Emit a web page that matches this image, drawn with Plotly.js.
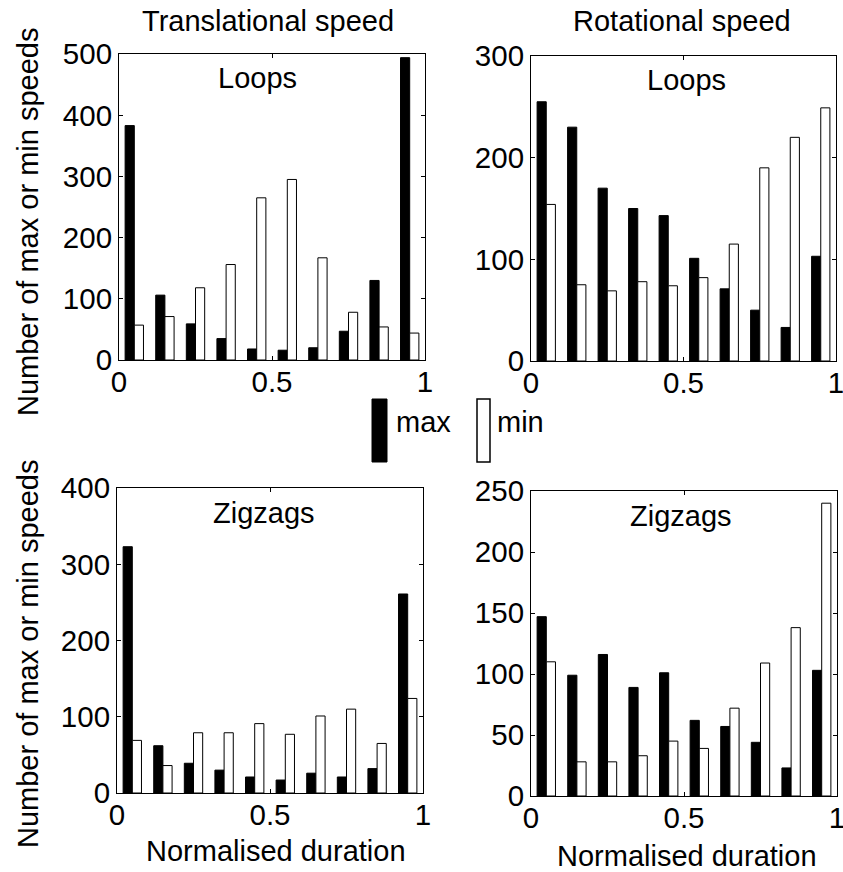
<!DOCTYPE html>
<html>
<head>
<meta charset="utf-8">
<script src="https://cdn.plot.ly/plotly-3.0.1.min.js"></script>
<style>html,body{margin:0;padding:0;background:#fff;}#chart{width:843px;height:872px;}</style>
</head>
<body>
<div id="chart"></div>
<script>
// Bin centres of the normalised duration (10 bins)
var binCenters = [0.05, 0.15, 0.25, 0.35, 0.45, 0.55, 0.65, 0.75, 0.85, 0.95];

// Translational speed, Loops
var transLoopsMax = [383, 106, 59, 35, 18, 16, 20, 47, 130, 494];
var transLoopsMin = [57, 71, 118, 156, 265, 295, 167, 78, 54, 44];
// Rotational speed, Loops
var rotLoopsMax = [255, 230, 170, 150, 143, 101, 71, 50, 33, 103];
var rotLoopsMin = [154, 75, 69, 78, 74, 82, 115, 190, 220, 249];
// Translational speed, Zigzags
var transZigMax = [323, 62, 39, 30, 21, 17, 26, 21, 32, 261];
var transZigMin = [69, 36, 79, 79, 91, 77, 101, 110, 65, 124];
// Rotational speed, Zigzags
var rotZigMax = [147, 99, 116, 89, 101, 62, 57, 44, 23, 103];
var rotZigMin = [110, 28, 28, 33, 45, 39, 72, 109, 138, 240];

var colTitles = ["Translational speed", "Rotational speed"];
var panelLabels = ["Loops", "Loops", "Zigzags", "Zigzags"];
var seriesNames = ["max", "min"];
var xTickVals = [0, 0.5, 1];
var xTickText = ["0", "0.5", "1"];
var yLabel = "Number of max or min speeds";
var xLabel = "Normalised duration";

var FONT = "Liberation Sans, Arial, Helvetica, sans-serif";
var FS = 29;
var TFS = 29.5;

function barPair(maxv, minv, ax) {
  var xa = 'x' + (ax === 1 ? '' : ax), ya = 'y' + (ax === 1 ? '' : ax);
  return [
    {type: 'bar', x: binCenters, y: maxv, xaxis: xa, yaxis: ya, name: seriesNames[0],
     marker: {color: '#000', line: {color: '#000', width: 1}}, showlegend: false},
    {type: 'bar', x: binCenters, y: minv, xaxis: xa, yaxis: ya, name: seriesNames[1],
     marker: {color: '#fff', line: {color: '#000', width: 1}}, showlegend: false}
  ];
}

var data = [].concat(
  barPair(transLoopsMax, transLoopsMin, 1),
  barPair(rotLoopsMax, rotLoopsMin, 2),
  barPair(transZigMax, transZigMin, 3),
  barPair(rotZigMax, rotZigMin, 4)
);

var W = 843, H = 872;
function px(a, b) { return [a / W, b / W]; }
function py(top, bottom) { return [1 - bottom / H, 1 - top / H]; }

function xax(dom, anchor) {
  return {domain: dom, anchor: anchor, range: [0, 1], tickvals: xTickVals, ticktext: xTickText,
    ticks: 'inside', ticklen: 4, tickcolor: '#000', mirror: 'allticks', showline: true,
    linecolor: '#000', linewidth: 1, showgrid: false, zeroline: false,
    ticklabeloverflow: 'allow', ticklabelstandoff: -4,
    tickfont: {family: FONT, size: TFS, color: '#000'}, fixedrange: true};
}
function yax(dom, anchor, maxv, dt) {
  return {domain: dom, anchor: anchor, range: [0, maxv], dtick: dt, tick0: 0,
    ticks: 'inside', ticklen: 4, tickcolor: '#000', mirror: 'allticks', showline: true,
    linecolor: '#000', linewidth: 1, showgrid: false, zeroline: false,
    ticklabeloverflow: 'allow',
    tickfont: {family: FONT, size: TFS, color: '#000'}, fixedrange: true};
}

var xd1 = px(119, 425), xd2 = px(531, 836), xd3 = px(117, 423), xd4 = px(531, 837);
var yd1 = py(54, 360), yd2 = py(56, 361), yd3 = py(488, 793), yd4 = py(491, 796);

function ann(text, x, y, extra) {
  var a = {text: text, x: x / W, y: 1 - y / H, xref: 'paper', yref: 'paper',
    xanchor: 'center', yanchor: 'middle', showarrow: false,
    font: {family: FONT, size: FS, color: '#000'}};
  for (var k in extra) a[k] = extra[k];
  return a;
}

var layout = {
  width: W, height: H,
  margin: {l: 0, r: 0, t: 0, b: 0},
  paper_bgcolor: '#fff', plot_bgcolor: '#fff',
  barmode: 'group', bargap: 0.4, bargroupgap: 0,
  showlegend: false,
  font: {family: FONT, size: FS, color: '#000'},
  xaxis: xax(xd1, 'y'), yaxis: yax(yd1, 'x', 500, 100),
  xaxis2: xax(xd2, 'y2'), yaxis2: yax(yd2, 'x2', 300, 100),
  xaxis3: xax(xd3, 'y3'), yaxis3: yax(yd3, 'x3', 400, 100),
  xaxis4: xax(xd4, 'y4'), yaxis4: yax(yd4, 'x4', 250, 50),
  annotations: [
    ann(colTitles[0], 268, 21),
    ann(colTitles[1], 682, 21),
    ann(panelLabels[0], 257, 78),
    ann(panelLabels[1], 686, 80),
    ann(panelLabels[2], 264, 513),
    ann(panelLabels[3], 681, 516),
    ann(yLabel, 28, 222, {textangle: -90}),
    ann(yLabel, 28, 654, {textangle: -90}),
    ann(xLabel, 276, 851),
    ann(xLabel, 687, 856),
    ann(seriesNames[0], 394, 422, {xanchor: 'left'}),
    ann(seriesNames[1], 495, 422, {xanchor: 'left'})
  ],
  shapes: [
    {type: 'rect', xref: 'paper', yref: 'paper', x0: 372 / W, x1: 387 / W, y0: 1 - 462 / H, y1: 1 - 399 / H,
     fillcolor: '#000', line: {color: '#000', width: 1}},
    {type: 'rect', xref: 'paper', yref: 'paper', x0: 477 / W, x1: 490 / W, y0: 1 - 462 / H, y1: 1 - 399 / H,
     fillcolor: '#fff', line: {color: '#000', width: 1.5}}
  ]
};

Plotly.newPlot('chart', data, layout, {displayModeBar: false, staticPlot: true});
</script>
</body>
</html>
